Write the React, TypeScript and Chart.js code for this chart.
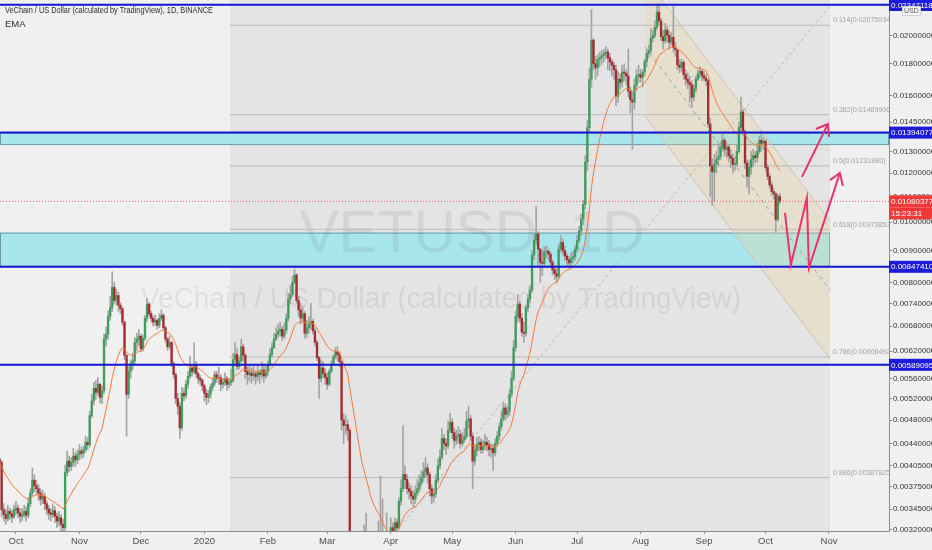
import { useEffect, useRef } from "react";
import { Chart, registerables } from "chart.js";

Chart.register(...registerables);

// day 0 = 1 Oct 2019, one candle per day; prices below are in units of 0.00001 USD
const UNIT = 1e-5;
const firstDay = -8; // 23 Sep 2019
const firstOpen = 415;

const closes = [
  // Sep 2019
  410, 344, 338, 333, 342, 339, 335, 344,
  // Oct
  346, 340, 336, 338, 342, 337, 352, 366, 384, 376, 372, 366, 358, 362, 352, 345, 340, 338, 343, 336,
  330, 334, 326, 322, 395, 412, 404, 410, 420, 414, 422,
  // Nov
  428, 424, 430, 442, 438, 488, 515, 540, 532, 548, 522, 535, 648, 660, 705, 728, 785, 748, 762, 735,
  725, 690, 610, 528, 575, 592, 598, 640, 648, 655,
  // Dec
  625, 650, 700, 738, 712, 700, 690, 695, 682, 700, 708, 676, 648, 630, 640, 592, 568, 520, 505, 466,
  530, 525, 548, 565, 582, 574, 588, 570, 560, 556, 545,
  // Jan 2020
  530, 522, 528, 542, 550, 568, 560, 562, 548, 552, 560, 548, 552, 556, 600, 612, 585, 598, 630, 610,
  575, 568, 572, 566, 570, 564, 572, 568, 578, 565, 574,
  // Feb
  590, 612, 628, 648, 660, 668, 672, 655, 670, 700, 752, 765, 800, 822, 748, 722, 700, 712, 662, 676,
  685, 692, 668, 640, 605, 560, 582, 570, 562,
  // Mar
  548, 575, 590, 606, 618, 612, 596, 480, 470, 472, 462, 270, 285, 265, 262, 232, 240, 238, 292, 272,
  275, 255, 270, 290, 292, 300, 290, 272, 268, 282, 290,
  // Apr
  322, 318, 328, 322, 355, 372, 392, 385, 372, 368, 362, 358, 366, 372, 380, 388, 396, 402, 392, 372,
  362, 365, 384, 405, 418, 448, 440, 436, 462, 476,
  // May
  458, 445, 452, 455, 440, 446, 452, 478, 482, 452, 412, 428, 438, 442, 430, 436, 442, 438, 430, 432,
  425, 440, 452, 468, 482, 502, 490, 496, 528, 560, 628,
  // Jun
  705, 738, 700, 665, 662, 728, 752, 778, 885, 935, 958, 905, 862, 858, 895, 898, 888, 862, 838, 826,
  818, 905, 928, 900, 882, 870, 860, 874, 880, 905,
  // Jul
  935, 968, 1012, 1068, 1250, 1420, 1700, 1965, 1800, 1772, 1830, 1842, 1855, 1868, 1880, 1840, 1812,
  1790, 1760, 1595, 1700, 1680, 1745, 1738, 1720, 1625, 1575, 1560, 1660, 1720, 1730,
  // Aug
  1710, 1745, 1815, 1870, 1890, 1980, 2000, 2060, 2180, 2110, 1990, 1960, 2040, 2000, 1950, 1985, 1910,
  1895, 1790, 1775, 1810, 1730, 1700, 1680, 1665, 1590, 1640, 1700, 1735, 1750, 1720,
  // Sep
  1705, 1690, 1440, 1232, 1205, 1240, 1262, 1275, 1320, 1355, 1310, 1322, 1280, 1268, 1238, 1240, 1300,
  1420, 1505, 1400, 1245, 1185, 1225, 1262, 1280, 1270, 1300, 1355, 1340, 1350,
  // Oct
  1225, 1185, 1148, 1120, 1110, 1010, 1100, 1080,
];

const highs = [
  418, 413, 352, 345, 350, 346, 344, 350,
  355, 350, 345, 346, 350, 348, 360, 372, 402, 392, 384, 378, 372, 370, 366, 356, 350, 346, 352, 348,
  340, 342, 338, 332, 406, 428, 420, 418, 432, 426, 430,
  438, 434, 436, 452, 450, 496, 528, 552, 556, 562, 550, 545, 660, 678, 720, 760, 832, 800, 780, 772,
  742, 730, 692, 612, 585, 600, 615, 652, 662, 672,
  660, 658, 708, 752, 742, 720, 706, 708, 698, 712, 722, 712, 680, 652, 656, 642, 596, 572, 530, 512,
  542, 540, 556, 575, 608, 590, 640, 596, 574, 566, 560,
  548, 538, 536, 548, 560, 575, 575, 584, 568, 560, 572, 565, 560, 580, 615, 640, 625, 606, 648, 636,
  615, 585, 590, 582, 588, 576, 590, 578, 596, 588, 586,
  598, 625, 640, 662, 676, 685, 690, 680, 688, 712, 768, 790, 818, 840, 826, 760, 740, 730, 718, 695,
  705, 740, 698, 676, 645, 608, 600, 596, 580,
  572, 580, 598, 612, 628, 630, 618, 598, 492, 488, 480, 466, 300, 292, 275, 268, 252, 250, 325, 340,
  288, 282, 284, 300, 312, 330, 390, 358, 285, 340, 298,
  334, 328, 334, 332, 360, 385, 470, 405, 392, 380, 376, 370, 376, 385, 392, 398, 410, 418, 408, 396,
  378, 372, 392, 415, 430, 465, 455, 448, 478, 492,
  482, 466, 462, 468, 462, 458, 465, 496, 505, 488, 458, 438, 450, 452, 448, 446, 455, 450, 445, 440,
  438, 448, 460, 475, 495, 512, 510, 505, 538, 575, 645,
  720, 765, 745, 712, 690, 735, 765, 790, 900, 955, 1060, 965, 905, 900, 912, 915, 905, 895, 870, 850,
  842, 920, 952, 940, 915, 892, 880, 892, 898, 918,
  952, 985, 1030, 1085, 1280, 1460, 1770, 2200, 1975, 1850, 1860, 1880, 1890, 1900, 1920, 1900, 1870,
  1830, 1810, 1790, 1745, 1735, 1790, 1800, 1760, 1900, 1650, 1620, 1700, 1760, 1790,
  1765, 1760, 1830, 1900, 1930, 2050, 2040, 2110, 2230, 2250, 2130, 2040, 2090, 2070, 2030, 2020, 2230,
  1950, 1900, 1830, 1830, 1820, 1760, 1740, 1720, 1690, 1665, 1720, 1760, 1780, 1760,
  1745, 1730, 1700, 1470, 1265, 1285, 1300, 1330, 1345, 1390, 1365, 1345, 1330, 1310, 1290, 1275, 1330,
  1450, 1590, 1520, 1410, 1260, 1255, 1300, 1310, 1300, 1340, 1375, 1400, 1370,
  1360, 1240, 1200, 1160, 1135, 1118, 1110, 1112,
];

const lows = [
  404, 335, 330, 326, 330, 332, 328, 333,
  338, 334, 328, 330, 334, 330, 334, 348, 362, 368, 364, 356, 350, 352, 344, 338, 332, 330, 334, 328,
  322, 324, 318, 314, 318, 390, 396, 398, 404, 404, 408,
  414, 416, 418, 426, 430, 434, 484, 508, 518, 526, 512, 510, 530, 632, 648, 695, 718, 738, 735, 718,
  712, 682, 600, 452, 520, 560, 578, 588, 620, 632,
  618, 620, 645, 692, 705, 690, 680, 682, 672, 676, 694, 668, 640, 622, 625, 585, 560, 510, 490, 448,
  462, 515, 520, 540, 560, 565, 570, 562, 550, 546, 535,
  515, 508, 512, 520, 535, 545, 552, 548, 535, 540, 545, 535, 540, 545, 552, 590, 578, 580, 594, 598,
  560, 548, 555, 550, 556, 548, 556, 550, 560, 552, 560,
  565, 586, 605, 625, 645, 652, 656, 645, 650, 662, 692, 738, 758, 795, 740, 705, 685, 690, 650, 652,
  662, 672, 660, 632, 598, 520, 552, 562, 548,
  538, 545, 572, 588, 602, 598, 585, 462, 440, 455, 445, 248, 190, 240, 230, 215, 225, 228, 232, 258,
  256, 240, 248, 262, 275, 285, 268, 262, 258, 262, 275,
  284, 305, 312, 315, 320, 350, 368, 372, 365, 358, 352, 348, 352, 362, 368, 376, 382, 388, 380, 362,
  352, 354, 360, 380, 400, 415, 430, 422, 432, 458,
  448, 432, 438, 440, 432, 436, 442, 448, 465, 445, 372, 405, 420, 428, 424, 425, 430, 428, 420, 418,
  398, 420, 435, 445, 462, 478, 480, 484, 488, 522, 555,
  620, 690, 690, 655, 640, 655, 718, 742, 770, 870, 920, 850, 800, 820, 850, 878, 870, 850, 822, 808,
  800, 810, 895, 888, 868, 850, 845, 850, 860, 868,
  895, 925, 952, 990, 1050, 1210, 1400, 1650, 1760, 1700, 1720, 1780, 1795, 1810, 1830, 1760, 1755,
  1720, 1700, 1540, 1560, 1640, 1650, 1690, 1665, 1590, 1500, 1310, 1520, 1630, 1680,
  1680, 1650, 1720, 1780, 1840, 1870, 1950, 1980, 2040, 2080, 1960, 1900, 1940, 1950, 1900, 1930, 1880,
  1850, 1760, 1740, 1750, 1700, 1660, 1640, 1560, 1530, 1570, 1620, 1690, 1710, 1690,
  1690, 1660, 1420, 1100, 1065, 1080, 1200, 1230, 1260, 1300, 1280, 1270, 1250, 1225, 1200, 1210, 1230,
  1290, 1400, 1380, 1220, 1140, 1110, 1195, 1230, 1245, 1250, 1290, 1300, 1310,
  1210, 1170, 1135, 1105, 1090, 962, 1005, 1070,
];

const emaLength = 20;
const lastPrice = 0.01080377;
const countdown = "15:23:31";

const xRange = [-7.8, 426.3];
const monthTicks = [0, 31, 61, 92, 123, 152, 183, 213, 244, 274, 305, 336, 366, 397];
const monthLabels = ["Oct", "Nov", "Dec", "2020", "Feb", "Mar", "Apr", "May", "Jun", "Jul", "Aug", "Sep", "Oct", "Nov"];
const yRange = [0.00318, 0.0228];
const priceTicks = [
  0.02, 0.018, 0.016, 0.0145, 0.013, 0.012, 0.011, 0.01, 0.009, 0.008, 0.0074, 0.0068, 0.0062,
  0.0056, 0.0052, 0.0048, 0.0044, 0.00405, 0.00375, 0.00345, 0.0032,
];

// fib retracement
const fibSpan = [104.5, 397.5];
const fibLevels = ["0.114", "0.382", "0.5", "0.618", "0.786", "0.886"];
const fibPrices = [0.02075934, 0.01489906, 0.0123188, 0.00973853, 0.00606492, 0.00387825];

// horizontal levels and zones
const blueLevels = [0.0224, 0.01394077, 0.0084741, 0.00589095];
const blueLabels = ["0.02347118", "0.01394077", "0.00847410", "0.00589095"];
const zoneA = [xRange[0], xRange[1], 0.01331, 0.01394077];
const zoneB = [xRange[0], 397.5, 0.0084741, 0.00962];

// descending channel and trend line, [day, price]
const channelUpper = [[307.1, 0.02474], [397.5, 0.010046]];
const channelLower = [[307.1, 0.014827], [397.5, 0.006022]];
const channelMid = [[307.1, 0.01915], [397.5, 0.007777]];
const fibTrend = [[183.6, 0.003121], [397.5, 0.0223]];

// projected moves
const zigzag = [[375.5, 0.01035], [378.4, 0.00853], [386.2, 0.01094], [387.2, 0.00844], [402.3, 0.012]];
const zigzagHead = [[397.5, 0.01169], [402.3, 0.012], [403.8, 0.01144]];
const breakout = [[383.8, 0.01183], [396.5, 0.01439]];
const breakoutHead = [[390.6, 0.01413], [396.5, 0.01439], [397.0, 0.01372]];

const legendTitle = "VeChain / US Dollar (calculated by TradingView), 1D, BINANCE";
const watermark = ["VETUSD, 1D", "VeChain / US Dollar (calculated by TradingView)"];

const FONT = "'Liberation Sans', Arial, sans-serif";

const candles = closes.map((c, i) => {
  const o = i === 0 ? firstOpen : closes[i - 1];
  return {
    day: firstDay + i,
    o: o * UNIT,
    c: c * UNIT,
    h: Math.max(highs[i] ?? c, o, c) * UNIT,
    l: Math.min(lows[i] ?? c, o, c) * UNIT,
  };
});

const ema: { x: number; y: number }[] = [];
candles.forEach((k, i) => {
  const prev = i === 0 ? k.c : ema[i - 1].y;
  ema.push({ x: k.day, y: prev + ((k.c - prev) * 2) / (emaLength + 1) });
});

const pts = (list: number[][]) => list.map(([x, y]) => ({ x, y }));
const flat = (p: number) => [
  { x: xRange[0], y: p },
  { x: xRange[1], y: p },
];

const lineBase = { type: "line" as const, pointRadius: 0, tension: 0, fill: false };

const decor = {
  id: "decor",
  beforeDraw(chart: any) {
    const { ctx, width, height } = chart;
    ctx.save();
    ctx.fillStyle = "#f0f0f0";
    ctx.fillRect(0, 0, width, height);
    ctx.restore();
  },
  beforeDatasetsDraw(chart: any) {
    const { ctx, chartArea: a } = chart;
    const { x, y } = chart.scales;
    ctx.save();
    ctx.beginPath();
    ctx.rect(a.left, a.top, a.right - a.left, a.bottom - a.top);
    ctx.clip();
    const f0 = x.getPixelForValue(fibSpan[0]);
    const f1 = x.getPixelForValue(fibSpan[1]);
    ctx.fillStyle = "#e4e4e4";
    ctx.fillRect(f0, a.top, f1 - f0, a.bottom - a.top);
    for (const z of [zoneA, zoneB]) {
      const x0 = x.getPixelForValue(z[0]);
      const x1 = x.getPixelForValue(z[1]);
      const y0 = y.getPixelForValue(z[3]);
      const y1 = y.getPixelForValue(z[2]);
      ctx.fillStyle = "#a7e6ec";
      ctx.fillRect(x0, y0, x1 - x0, y1 - y0);
      ctx.strokeStyle = "#7197a6";
      ctx.lineWidth = 1;
      ctx.strokeRect(x0 + 0.5, y0 + 0.5, x1 - x0 - 1, y1 - y0 - 1);
    }
    const cy = (a.top + a.bottom) / 2;
    ctx.fillStyle = "rgba(110,110,110,0.13)";
    ctx.textAlign = "center";
    ctx.textBaseline = "middle";
    ctx.font = `60px ${FONT}`;
    ctx.fillText(watermark[0], 472, cy - 30, 345);
    ctx.font = `29px ${FONT}`;
    ctx.fillText(watermark[1], 441, cy + 34, 600);
    ctx.restore();
  },
  afterDatasetsDraw(chart: any) {
    const { ctx, chartArea: a } = chart;
    const { x, y } = chart.scales;
    ctx.save();
    ctx.beginPath();
    ctx.rect(a.left, a.top, a.right - a.left, a.bottom - a.top);
    ctx.clip();
    ctx.font = `8px ${FONT}`;
    ctx.fillStyle = "#a2a2a2";
    ctx.textAlign = "left";
    ctx.textBaseline = "bottom";
    const lx = x.getPixelForValue(fibSpan[1]) + 3;
    fibPrices.forEach((p, i) => {
      const label = `${fibLevels[i]}(${p.toFixed(8)})`;
      ctx.fillText(label, lx, y.getPixelForValue(p) - 1, label.length * 3.5);
    });
    ctx.restore();
  },
  afterDraw(chart: any) {
    const { ctx, chartArea: a } = chart;
    const { y } = chart.scales;
    ctx.save();
    ctx.fillStyle = "#2e2e2e";
    ctx.font = `9.5px ${FONT}`;
    ctx.textAlign = "left";
    ctx.textBaseline = "middle";
    ctx.fillText(legendTitle, 5, 10, 208);
    ctx.fillText("EMA", 5, 24);

    const tag = (yc: number, text: string, bg: string) => {
      ctx.fillStyle = bg;
      ctx.fillRect(a.right, yc - 6, 43, 12);
      ctx.fillStyle = "#ffffff";
      ctx.font = `8px ${FONT}`;
      ctx.textBaseline = "middle";
      ctx.fillText(text, a.right + 2, yc + 0.5);
    };
    blueLevels.forEach((p, i) => {
      tag(Math.max(y.getPixelForValue(p), a.top + 5), blueLabels[i], "#1b1bd8");
    });
    const py = y.getPixelForValue(lastPrice);
    tag(py, lastPrice.toFixed(8), "#f03a3a");
    tag(py + 12, countdown, "#f03a3a");

    ctx.fillStyle = "#f6f6f6";
    ctx.fillRect(902, 6, 19, 10);
    ctx.strokeStyle = "#d0d0d0";
    ctx.strokeRect(902.5, 6.5, 18, 9);
    ctx.fillStyle = "#555555";
    ctx.font = `7px ${FONT}`;
    ctx.fillText("USD", 904, 11.5);
    ctx.restore();
  },
};

export default function App() {
  const ref = useRef<HTMLCanvasElement | null>(null);
  useEffect(() => {
    if (!ref.current) return;
    const chart = new Chart(ref.current, {
      type: "bar",
      data: {
        datasets: [
          {
            ...lineBase,
            data: pts(channelUpper),
            borderColor: "#cbc4b2",
            borderWidth: 1,
            fill: "+1",
            backgroundColor: "rgba(240, 212, 150, 0.28)",
            order: 12,
          },
          { ...lineBase, data: pts(channelLower), borderColor: "#cbc4b2", borderWidth: 1, order: 11 },
          ...fibPrices.map((p) => ({
            ...lineBase,
            data: [
              { x: fibSpan[0], y: p },
              { x: fibSpan[1], y: p },
            ],
            borderColor: "#bcbcbc",
            borderWidth: 1,
            order: 10,
          })),
          { ...lineBase, data: pts(fibTrend), borderColor: "#b9b9b9", borderWidth: 1, borderDash: [3, 3], order: 9 },
          { ...lineBase, data: pts(channelMid), borderColor: "#8ea6bd", borderWidth: 1, borderDash: [4, 4], order: 8 },
          {
            type: "bar" as const,
            data: candles.map((k) => ({ x: k.day, y: [k.l, k.h] })),
            backgroundColor: "#a4a4a4",
            barThickness: 1,
            grouped: false,
            order: 7,
          },
          {
            type: "bar" as const,
            data: candles.map((k) => ({ x: k.day, y: [k.o, k.c] })),
            backgroundColor: candles.map((k) => (k.c >= k.o ? "#3f9e5c" : "#a92a2e")),
            barThickness: 1.7,
            minBarLength: 1,
            grouped: false,
            order: 6,
          },
          { ...lineBase, data: ema, borderColor: "#f27c3a", borderWidth: 1, order: 5 },
          ...blueLevels.map((p) => ({ ...lineBase, data: flat(p), borderColor: "#1515d4", borderWidth: 2, order: 4 })),
          { ...lineBase, data: flat(lastPrice), borderColor: "#f05a5a", borderWidth: 1, borderDash: [1, 2], order: 3 },
          ...[zigzag, zigzagHead, breakout, breakoutHead].map((path) => ({
            ...lineBase,
            data: pts(path),
            borderColor: "#e8336c",
            borderWidth: 2,
            borderJoinStyle: "miter" as const,
            order: 1,
          })),
        ],
      },
      options: {
        responsive: true,
        maintainAspectRatio: false,
        animation: false,
        events: [],
        layout: { padding: 0 },
        plugins: { legend: { display: false }, tooltip: { enabled: false } },
        scales: {
          x: {
            type: "linear",
            min: xRange[0],
            max: xRange[1],
            offset: false,
            afterBuildTicks: (s: any) => {
              s.ticks = monthTicks.map((v) => ({ value: v }));
            },
            afterFit: (s: any) => {
              s.height = 19;
              s.paddingLeft = 0;
              s.paddingRight = 0;
            },
            ticks: {
              autoSkip: false,
              maxRotation: 0,
              padding: 2,
              color: "#4d4d4d",
              font: { family: FONT, size: 9.5 },
              callback: (v: any) => monthLabels[monthTicks.indexOf(Number(v))] ?? "",
            },
            grid: { drawOnChartArea: false, offset: false, tickLength: 3, color: "#8c8c8c" },
            border: { color: "#8c8c8c" },
          },
          y: {
            type: "logarithmic",
            position: "right",
            min: yRange[0],
            max: yRange[1],
            afterBuildTicks: (s: any) => {
              s.ticks = priceTicks.map((v) => ({ value: v }));
            },
            afterFit: (s: any) => {
              s.width = 43;
              s.paddingTop = 0;
              s.paddingBottom = 0;
            },
            ticks: {
              autoSkip: false,
              padding: 1,
              color: "#363636",
              font: { family: FONT, size: 8 },
              callback: (v: any) => Number(v).toFixed(8),
            },
            grid: { drawOnChartArea: false, tickLength: 3, color: "#8c8c8c" },
            border: { color: "#8c8c8c" },
          },
        },
      },
      plugins: [decor],
    } as any);
    return () => chart.destroy();
  }, []);

  return (
    <div style={{ position: "absolute", left: 0, top: 0, width: 932, height: 550 }}>
      <canvas ref={ref} />
    </div>
  );
}
